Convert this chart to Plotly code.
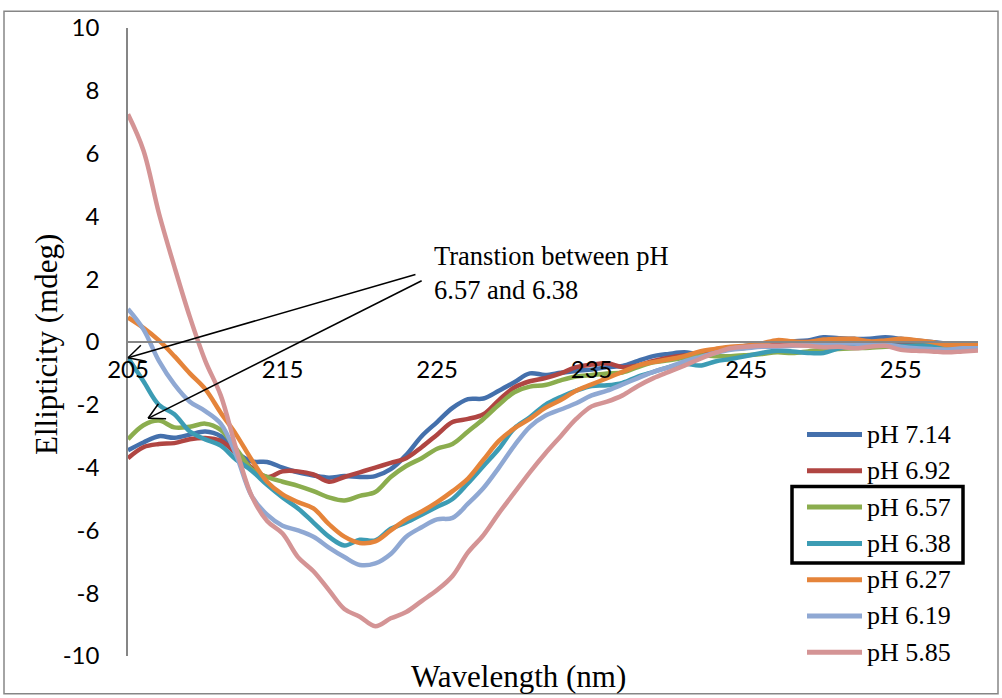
import math
import plotly.graph_objects as go

# Wavelength grid (nm)
WAVELENGTH_NM = list(range(205, 261))

# CD ellipticity (mdeg) at each wavelength, one list per pH
PH_7_14 = [-3.45, -3.2, -3.0, -3.05, -2.95, -2.85, -3.0, -3.5, -3.8, -3.82,
           -4.0, -4.15, -4.25, -4.32, -4.27, -4.3, -4.27, -4.05, -3.6, -3.0,
           -2.55, -2.1, -1.82, -1.8, -1.55, -1.28, -1.0, -1.05, -0.98, -0.92,
           -0.88, -0.8, -0.76, -0.6, -0.45, -0.38, -0.33, -0.38, -0.3, -0.2,
           -0.12, -0.08, -0.02, 0.02, 0.05, 0.15, 0.12, 0.1, 0.1, 0.15,
           0.1, 0.05, 0.0, -0.05, -0.05, -0.05]
PH_6_92 = [-3.7, -3.35, -3.25, -3.22, -3.1, -3.06, -3.15, -3.55, -4.0, -4.3,
           -4.12, -4.12, -4.22, -4.45, -4.3, -4.15, -4.0, -3.85, -3.7, -3.35,
           -2.95, -2.55, -2.45, -2.3, -1.85, -1.45, -1.25, -1.15, -1.0, -0.8,
           -0.72, -0.68, -0.8, -0.75, -0.6, -0.5, -0.43, -0.38, -0.3, -0.22,
           -0.18, -0.1, -0.05, -0.02, 0.0, 0.02, 0.0, 0.0, -0.02, 0.0,
           -0.05, -0.05, -0.08, -0.1, -0.1, -0.1]
PH_6_57 = [-3.1, -2.65, -2.5, -2.72, -2.7, -2.6, -2.8, -3.4, -4.05, -4.3,
           -4.45, -4.58, -4.75, -4.95, -5.05, -4.9, -4.78, -4.3, -3.95, -3.7,
           -3.4, -3.25, -2.85, -2.45, -2.0, -1.6, -1.42, -1.37, -1.22, -1.1,
           -1.05, -1.0, -0.97, -0.8, -0.65, -0.58, -0.5, -0.43, -0.45, -0.45,
           -0.42, -0.38, -0.33, -0.35, -0.3, -0.25, -0.22, -0.2, -0.18, -0.15,
           -0.15, -0.12, -0.12, -0.1, -0.1, -0.1]
PH_6_38 = [-0.5, -1.25, -2.0, -2.3, -2.85, -3.1, -3.3, -3.75, -4.1, -4.55,
           -4.95, -5.3, -5.75, -6.2, -6.48, -6.3, -6.32, -5.95, -5.75, -5.5,
           -5.25, -5.0, -4.5, -3.95, -3.4, -2.75, -2.4, -2.0, -1.75, -1.55,
           -1.4, -1.38, -1.3, -1.1, -0.95, -0.8, -0.69, -0.75, -0.62, -0.54,
           -0.45, -0.35, -0.28, -0.3, -0.35, -0.35, -0.2, -0.12, -0.1, -0.1,
           -0.12, -0.12, -0.1, -0.1, -0.1, -0.1]
PH_6_27 = [0.78, 0.45, 0.05, -0.45, -1.0, -1.5, -2.25, -2.95, -3.75, -4.45,
           -4.85, -5.1, -5.3, -5.8, -6.2, -6.4, -6.35, -6.0, -5.65, -5.4,
           -5.1, -4.75, -4.35, -3.75, -3.15, -2.75, -2.45, -2.1, -1.85, -1.55,
           -1.35, -1.15, -0.95, -0.75, -0.64, -0.55, -0.45, -0.3, -0.22, -0.15,
           -0.12, -0.05, 0.06, 0.02, 0.0, 0.08, 0.1, 0.1, 0.02, 0.05,
           0.1, 0.06, 0.0, -0.1, -0.08, -0.06]
PH_6_19 = [1.05, 0.4, -0.6, -1.35, -1.9, -2.2, -2.6, -3.6, -4.9, -5.5,
           -5.85, -6.0, -6.2, -6.55, -6.85, -7.1, -7.05, -6.75, -6.2, -5.9,
           -5.65, -5.6, -5.15, -4.65, -4.0, -3.3, -2.7, -2.35, -2.15, -1.95,
           -1.7, -1.55, -1.35, -1.15, -0.95, -0.8, -0.62, -0.48, -0.35, -0.25,
           -0.2, -0.15, -0.15, -0.12, -0.1, -0.08, -0.05, -0.05, -0.1, -0.08,
           -0.15, -0.2, -0.22, -0.25, -0.2, -0.2]
PH_5_85 = [7.25, 6.1, 4.1, 2.4, 0.8, -0.6, -1.7, -3.4, -4.9, -5.7,
           -6.1, -6.85, -7.3, -7.9, -8.5, -8.75, -9.05, -8.8, -8.6, -8.25,
           -7.9, -7.45, -6.7, -6.15, -5.45, -4.8, -4.15, -3.55, -3.0, -2.45,
           -2.05, -1.9, -1.7, -1.4, -1.15, -0.95, -0.75, -0.54, -0.35, -0.2,
           -0.15, -0.12, -0.12, -0.1, -0.12, -0.17, -0.15, -0.2, -0.15, -0.12,
           -0.25, -0.28, -0.3, -0.33, -0.3, -0.27]

SERIES_NAMES = ["pH 7.14", "pH 6.92", "pH 6.57", "pH 6.38",
                "pH 6.27", "pH 6.19", "pH 5.85"]
SERIES_VALUES = [PH_7_14, PH_6_92, PH_6_57, PH_6_38, PH_6_27, PH_6_19, PH_5_85]
SERIES_COLORS = ["#4470AC", "#B04542", "#8BAD4E", "#3C9CB4",
                 "#E5843A", "#8FA8D3", "#D49495"]

X_TICKS = [205, 215, 225, 235, 245, 255]
Y_TICKS = [-10, -8, -6, -4, -2, 0, 2, 4, 6, 8, 10]
Y_TICK_TEXT = ["-10", "-8", "-6", "-4", "-2", "0", "2", "4", "6", "8", "10"]

NOTE_TEXT = "Transtion between pH<br>6.57 and 6.38"
NOTE_ANCHOR = (224.65, 2.2)
ARROW_TAILS = [(223.6, 2.15), (224.0, 1.95)]
ARROW_TIPS = [(205.0, -0.5), (206.3, -2.43)]

# ---- page geometry (pixels) ----
W, H = 1002, 698
ML, MR, MT, MB = 128, 24, 22, 42
PW, PH = W - ML - MR, H - MT - MB
X_RANGE = [205, 260]
Y_RANGE = [-10, 10]

SERIF = "Liberation Serif, Times New Roman, serif"
SANS = "Lato, Carlito, Calibri, sans-serif"
AXIS_GREY = "#868686"


def data_to_px(x, y):
    px = ML + (x - X_RANGE[0]) / (X_RANGE[1] - X_RANGE[0]) * PW
    py = MT + (Y_RANGE[1] - y) / (Y_RANGE[1] - Y_RANGE[0]) * PH
    return px, py


def px_to_paper(px, py):
    return (px - ML) / PW, (H - MB - py) / PH


fig = go.Figure()

for name, vals, col in zip(SERIES_NAMES, SERIES_VALUES, SERIES_COLORS):
    fig.add_trace(go.Scatter(
        x=WAVELENGTH_NM, y=vals, name=name, mode="lines",
        line=dict(color=col, width=4.5, shape="spline", smoothing=1.0),
        showlegend=False,
    ))

shapes = []
annotations = []

# chart-area border
bx0, by0 = px_to_paper(4, 694)
bx1, by1 = px_to_paper(998, 5)
shapes.append(dict(type="rect", xref="paper", yref="paper",
                   x0=bx0, y0=by0, x1=bx1, y1=by1,
                   line=dict(color=AXIS_GREY, width=1.5), layer="below"))

# legend: coloured line + label per series
LEG_X0, LEG_X1, LEG_TEXT_X = 807, 862, 865
LEG_Y0, LEG_DY = 432.5, 36.6
for i, (name, col) in enumerate(zip(SERIES_NAMES, SERIES_COLORS)):
    yy = LEG_Y0 + i * LEG_DY
    x0, y0 = px_to_paper(LEG_X0, yy)
    x1, _ = px_to_paper(LEG_X1, yy)
    shapes.append(dict(type="line", xref="paper", yref="paper",
                       x0=x0, y0=y0, x1=x1, y1=y0,
                       line=dict(color=col, width=5)))
    tx, _ = px_to_paper(LEG_TEXT_X, yy)
    annotations.append(dict(xref="paper", yref="paper", x=tx, y=y0,
                            xanchor="left", yanchor="middle", showarrow=False,
                            text=name, font=dict(family=SERIF, size=26, color="black")))

# highlight box around the two transition legend entries
hx0, hy0 = px_to_paper(792, 562)
hx1, hy1 = px_to_paper(963, 485)
shapes.append(dict(type="rect", xref="paper", yref="paper",
                   x0=hx0, y0=hy0, x1=hx1, y1=hy1,
                   line=dict(color="black", width=3.5)))

# arrows with open heads
HEAD_LEN, HEAD_ANG = 18, math.radians(28)
for (tx_d, ty_d), (hx_d, hy_d) in zip(ARROW_TAILS, ARROW_TIPS):
    tpx, tpy = data_to_px(tx_d, ty_d)
    hpx, hpy = data_to_px(hx_d, hy_d)
    ax0, ay0 = px_to_paper(tpx, tpy)
    ax1, ay1 = px_to_paper(hpx, hpy)
    shapes.append(dict(type="line", xref="paper", yref="paper",
                       x0=ax0, y0=ay0, x1=ax1, y1=ay1,
                       line=dict(color="black", width=1.5)))
    ang = math.atan2(tpy - hpy, tpx - hpx)
    for s in (-1, 1):
        a = ang + s * HEAD_ANG
        epx = hpx + HEAD_LEN * math.cos(a)
        epy = hpy + HEAD_LEN * math.sin(a)
        ex, ey = px_to_paper(epx, epy)
        shapes.append(dict(type="line", xref="paper", yref="paper",
                           x0=ax1, y0=ay1, x1=ex, y1=ey,
                           line=dict(color="black", width=1.5)))

annotations.append(dict(xref="x", yref="y", x=NOTE_ANCHOR[0], y=NOTE_ANCHOR[1],
                        xanchor="left", yanchor="middle", align="left",
                        showarrow=False, text=NOTE_TEXT,
                        font=dict(family=SERIF, size=26.5, color="black")))

# axis titles
xt_x, xt_y = px_to_paper(518, 677)
annotations.append(dict(xref="paper", yref="paper", x=xt_x, y=xt_y,
                        xanchor="center", yanchor="middle", showarrow=False,
                        text="Wavelength (nm)",
                        font=dict(family=SERIF, size=31, color="black")))
yt_x, yt_y = px_to_paper(47, 342)
annotations.append(dict(xref="paper", yref="paper", x=yt_x, y=yt_y,
                        xanchor="center", yanchor="middle", showarrow=False,
                        textangle=-90, text="Ellipticity (mdeg)",
                        font=dict(family=SERIF, size=31, color="black")))

fig.update_layout(
    width=W, height=H, autosize=False,
    margin=dict(l=ML, r=MR, t=MT, b=MB, pad=0),
    paper_bgcolor="white", plot_bgcolor="white",
    shapes=shapes, annotations=annotations,
    showlegend=False,
    xaxis=dict(range=X_RANGE, tickvals=X_TICKS, ticks="", showgrid=False,
               zeroline=False, showline=True, linecolor=AXIS_GREY, linewidth=1.5,
               anchor="free", position=0.5, ticklabelstandoff=6,
               tickfont=dict(family=SANS, size=24, color="black")),
    yaxis=dict(range=Y_RANGE, tickvals=Y_TICKS, ticktext=Y_TICK_TEXT, ticks="",
               showgrid=False, zeroline=False, showline=True,
               linecolor=AXIS_GREY, linewidth=1.5, ticklabelstandoff=22,
               tickfont=dict(family=SANS, size=24, color="black")),
)

fig.write_html("out.html")
